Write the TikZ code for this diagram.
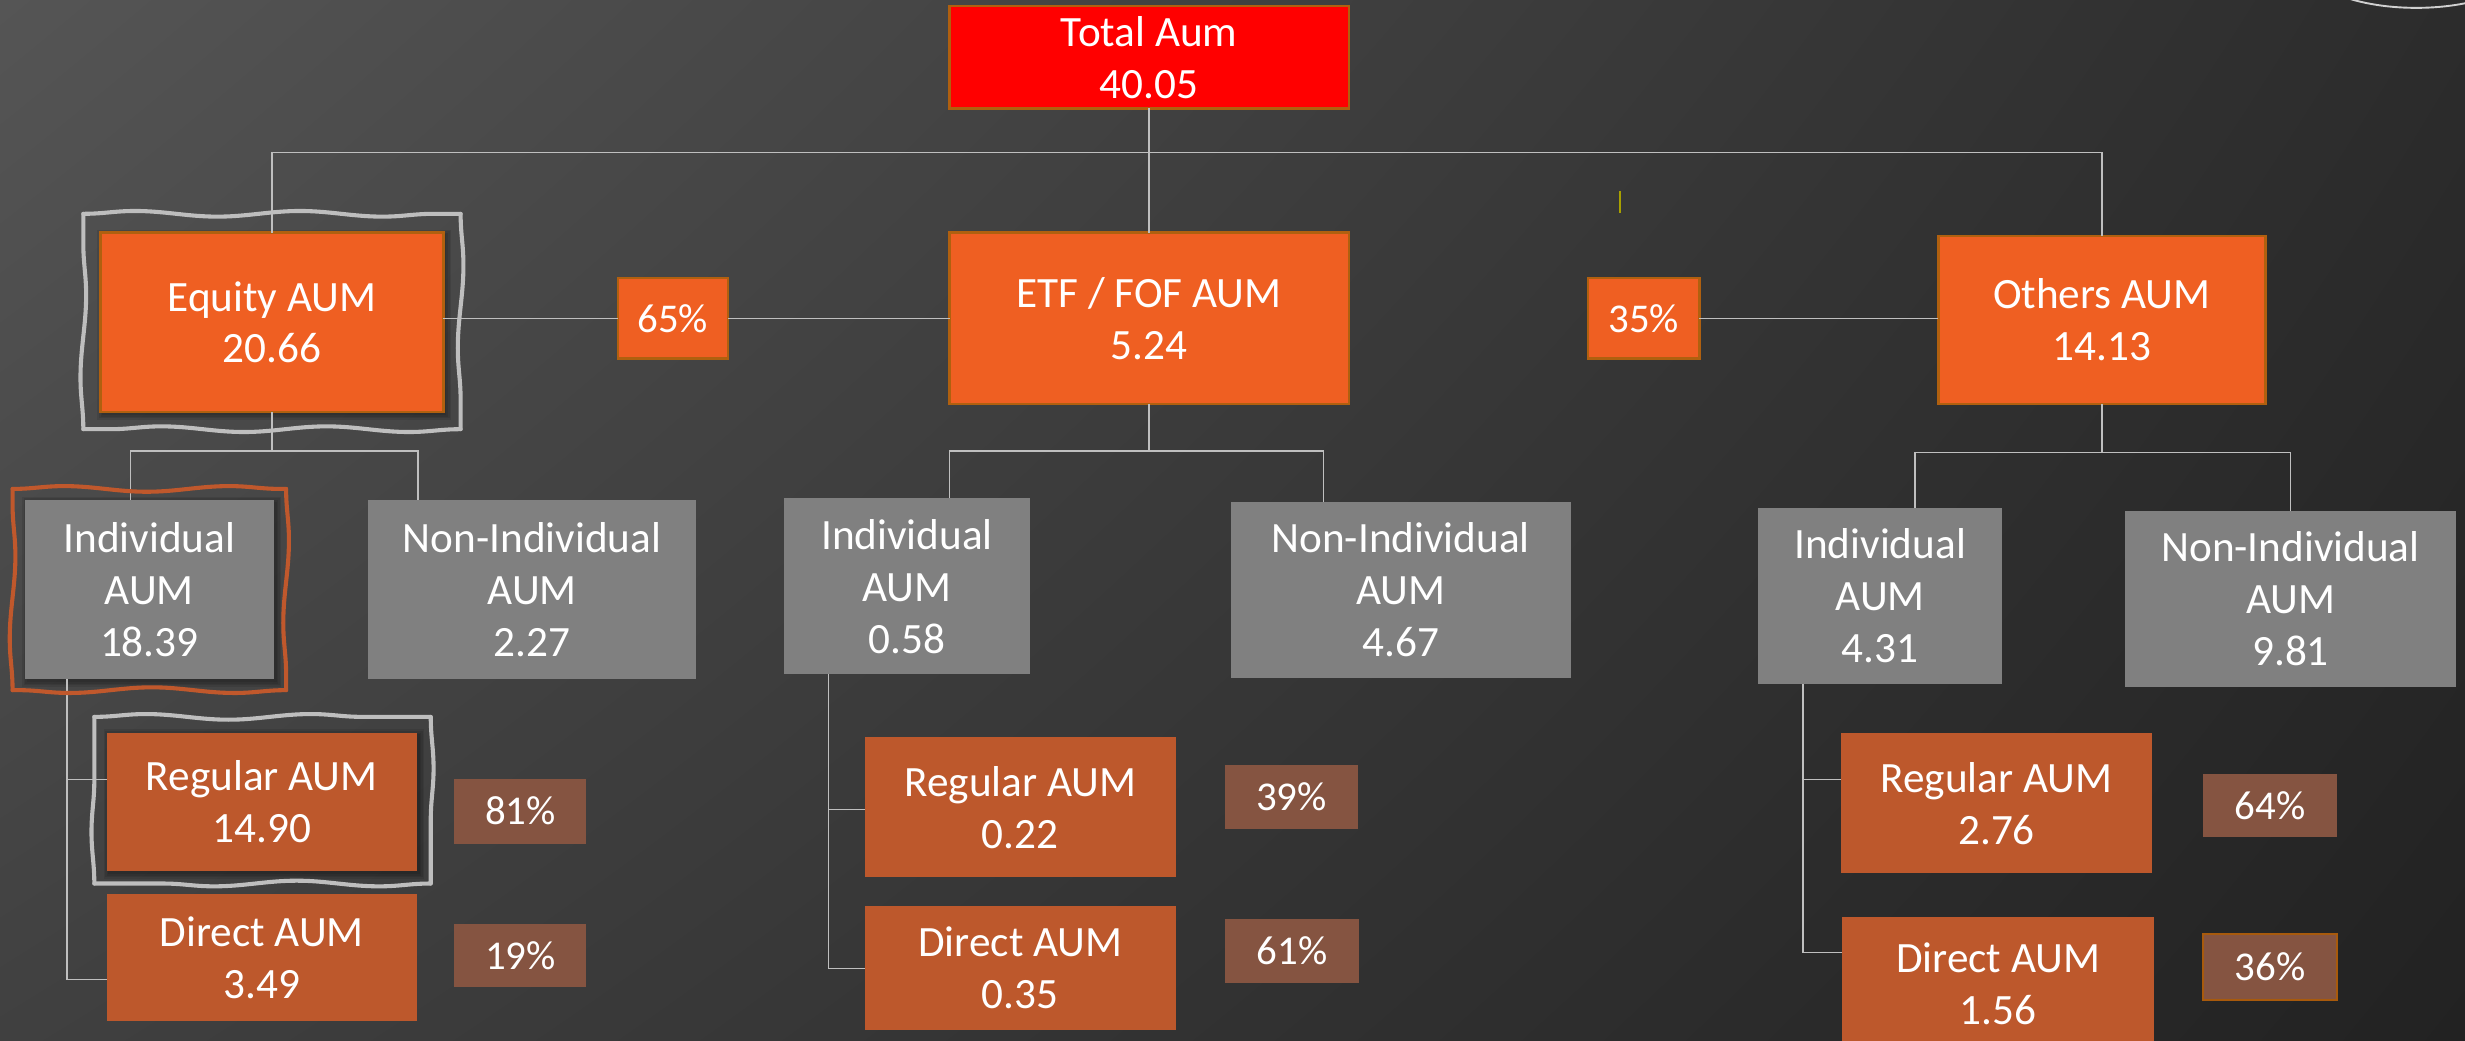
\documentclass[tikz,border=0pt]{standalone}
\usepackage{fontspec}
\setmainfont{Carlito}
\usetikzlibrary{decorations.pathmorphing, shadings}

\definecolor{bgTL}{HTML}{555555}
\definecolor{bgTR}{HTML}{2C2C2C}
\definecolor{bgBL}{HTML}{404040}
\definecolor{bgBR}{HTML}{222222}
\definecolor{redTotal}{HTML}{FF0000}
\definecolor{orMain}{HTML}{EF5F22}
\definecolor{orEdge}{HTML}{B0600F}
\definecolor{orSub}{HTML}{BD582C}
\definecolor{pctBrown}{HTML}{855441}
\definecolor{pctEdge}{HTML}{A85A0C}
\definecolor{boxGrey}{HTML}{808080}
\definecolor{lineGrey}{HTML}{BFBFBF}
\definecolor{waveGrey}{HTML}{BEBEBE}
\definecolor{waveOrange}{HTML}{C0582C}
\definecolor{markYellow}{HTML}{A8A000}
\definecolor{arcGrey}{HTML}{D0D0D0}

\tikzset{
  box/.style={inner sep=0pt, outer sep=0pt, align=center, text=white,
              font=\fontsize{27.5}{33}\selectfont},
  mainbox/.style={box, fill=orMain, draw=orEdge, line width=1.5pt},
  totalbox/.style={box, fill=redTotal, draw=orEdge, line width=1.5pt},
  greybox/.style={box, fill=boxGrey},
  subbox/.style={box, fill=orSub},
  pctbox/.style={box, fill=pctBrown, font=\fontsize{26}{30}\selectfont},
  pctmain/.style={mainbox, font=\fontsize{26}{30}\selectfont},
  link/.style={draw=lineGrey, line width=0.9pt},
  wavy/.style={line width=2.6pt, line cap=round, decorate,
               decoration={snake, amplitude=1.8pt, segment length=105pt}},
  shadowlayer/.style={fill=black, opacity=0.09, draw=none},
}

% soft shadow made of stacked translucent rectangles
\newcommand{\softshade}[4]{%
  \foreach \g in {1,2,3,4}{%
    \fill[shadowlayer] (#1-\g+2,#2-\g+2) rectangle (#3+\g+1,#4+\g+1);}}

% wavy hand-drawn frame: colour, x1, y1, x2, y2
\newcommand{\wavyframe}[5]{%
  \draw[wavy, draw=#1] (#2,#3) -- (#4,#3);
  \draw[wavy, draw=#1] (#4,#3) -- (#4,#5);
  \draw[wavy, draw=#1] (#4,#5) -- (#2,#5);
  \draw[wavy, draw=#1] (#2,#5) -- (#2,#3);}

\begin{document}
\begin{tikzpicture}[x=1pt,y=-1pt]
\useasboundingbox (0,0) rectangle (1568,662);
\begin{scope}
\clip (0,0) rectangle (1568,662);
% background
\shade[upper left=bgTL, upper right=bgTR, lower left=bgBL, lower right=bgBR]
  (0,0) rectangle (1568,662);

% decorative arc in the upper right corner and a small tick
\draw[arcGrey, line width=1.2pt] (1537,-25) ellipse [x radius=72, y radius=30];
\draw[markYellow, line width=1pt] (1030.5,121.5) -- (1030.5,135.5);

% soft shadows behind the highlighted boxes
\softshade{64}{148}{282}{262}
\softshade{16}{318}{174}{432}
\softshade{68}{466}{265}{554}

% ---------- level 0 and 1 ----------
\node[totalbox, minimum width=254pt, minimum height=65pt] (total) at (731,36.5) {Total Aum\\40.05};
\node[mainbox, minimum width=218pt, minimum height=114pt] (equity) at (173,205) {Equity AUM\\20.66};
\node[mainbox, minimum width=254pt, minimum height=109pt] (etf) at (731,202.5) {ETF / FOF AUM\\5.24};
\node[mainbox, minimum width=208pt, minimum height=107pt] (others) at (1337,203.5) {Others AUM\\14.13};
\node[pctmain, minimum width=70pt, minimum height=51pt] (p65) at (428,202.5) {65\%};
\node[pctmain, minimum width=71pt, minimum height=51pt] (p35) at (1045.5,202.5) {35\%};

% ---------- equity branch ----------
\node[greybox, minimum width=158pt, minimum height=114pt] (eqInd) at (95,375) {Individual\\AUM\\18.39};
\node[greybox, minimum width=209pt, minimum height=114pt] (eqNon) at (338.5,375) {Non-Individual\\AUM\\2.27};
\node[subbox, minimum width=197pt, minimum height=88pt] (eqReg) at (166.5,510) {Regular AUM\\14.90};
\node[subbox, minimum width=197pt, minimum height=81pt] (eqDir) at (166.5,609) {Direct AUM\\3.49};
\node[pctbox, minimum width=84pt, minimum height=41.5pt] (p81) at (331,516) {81\%};
\node[pctbox, minimum width=84pt, minimum height=40pt] (p19) at (331,608) {19\%};

% ---------- ETF / FOF branch ----------
\node[greybox, minimum width=156pt, minimum height=112pt] (etfInd) at (577,373) {Individual\\AUM\\0.58};
\node[greybox, minimum width=216pt, minimum height=112pt] (etfNon) at (891,375) {Non-Individual\\AUM\\4.67};
\node[subbox, minimum width=198pt, minimum height=89pt] (etfReg) at (649,513.5) {Regular AUM\\0.22};
\node[subbox, minimum width=198pt, minimum height=79pt] (etfDir) at (649,615.5) {Direct AUM\\0.35};
\node[pctbox, minimum width=85pt, minimum height=41pt] (p39) at (821.5,507) {39\%};
\node[pctbox, minimum width=85pt, minimum height=41pt] (p61) at (822,605) {61\%};

% ---------- others branch ----------
\node[greybox, minimum width=155pt, minimum height=112pt] (othInd) at (1196,379) {Individual\\AUM\\4.31};
\node[greybox, minimum width=210pt, minimum height=112pt] (othNon) at (1457,381) {Non-Individual\\AUM\\9.81};
\node[subbox, minimum width=198pt, minimum height=89pt] (othReg) at (1270,511) {Regular AUM\\2.76};
\node[subbox, minimum width=198pt, minimum height=86pt] (othDir) at (1271,626) {Direct AUM\\1.56};
\node[pctbox, minimum width=85pt, minimum height=40pt] (p64) at (1444,512.5) {64\%};
\node[pctbox, draw=pctEdge, line width=1.5pt, minimum width=85pt, minimum height=42pt] (p36) at (1444,615) {36\%};

% ---------- connectors ----------
\coordinate (busTop) at (731,97);
\draw[link] (total.south) -- (etf.north);
\draw[link] (equity.north) |- (busTop) -| (others.north);
\draw[link] (equity.east |- p65.west) -- (p65.west);
\draw[link] (p65.east) -- (p65.east -| etf.west);
\draw[link] (p35.east) -- (p35.east -| others.west);

\coordinate (eqBusL) at (83,287);
\coordinate (eqBusR) at (266,287);
\draw[link] (equity.south) -- (equity.south |- eqBusL);
\draw[link] (eqBusL |- eqInd.north) -- (eqBusL) -- (eqBusR) -- (eqBusR |- eqNon.north);

\coordinate (etfBusL) at (604,287);
\coordinate (etfBusR) at (842,287);
\draw[link] (etf.south) -- (etf.south |- etfBusL);
\draw[link] (etfBusL |- etfInd.north) -- (etfBusL) -- (etfBusR) -- (etfBusR |- etfNon.north);

\coordinate (othBusL) at (1218,288);
\coordinate (othBusR) at (1457,288);
\draw[link] (others.south) -- (others.south |- othBusL);
\draw[link] (othBusL |- othInd.north) -- (othBusL) -- (othBusR) -- (othBusR |- othNon.north);

\coordinate (eqJr) at (42.6,496);
\coordinate (eqJd) at (42.6,623);
\draw[link] (eqInd.south -| eqJr) -- (eqJd) -- (eqJd -| eqDir.west);
\draw[link] (eqJr) -- (eqJr -| eqReg.west);

\coordinate (etfJr) at (527,515);
\coordinate (etfJd) at (527,616);
\draw[link] (etfInd.south -| etfJr) -- (etfJd) -- (etfJd -| etfDir.west);
\draw[link] (etfJr) -- (etfJr -| etfReg.west);

\coordinate (othJr) at (1147,496);
\coordinate (othJd) at (1147,606);
\draw[link] (othInd.south -| othJr) -- (othJd) -- (othJd -| othDir.west);
\draw[link] (othJr) -- (othJr -| othReg.west);

% ---------- hand-drawn highlight frames ----------
\wavyframe{waveGrey}{53}{136}{293}{273}
\wavyframe{waveOrange}{8}{311}{182}{439}
\wavyframe{waveGrey}{60}{456}{274}{562}
\end{scope}
\end{tikzpicture}
\end{document}
